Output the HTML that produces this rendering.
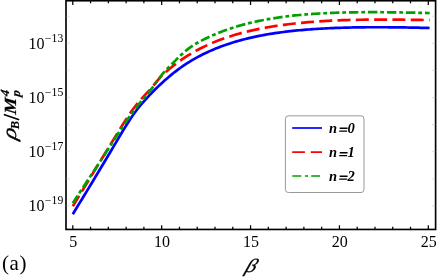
<!DOCTYPE html>
<html><head><meta charset="utf-8"><title>plot</title>
<style>
html,body{margin:0;padding:0;background:#fff;}
svg{display:block;will-change:transform;}
text{font-family:"Liberation Serif",serif;fill:#000;}
.tk{font-size:16px;}
.sup{font-size:11.7px;letter-spacing:0.15px;}
.leg{font-size:14.5px;font-weight:bold;font-style:italic;}
.xl{font-size:19px;font-style:italic;stroke:#000;stroke-width:0.3px;}
.pa{font-size:21px;letter-spacing:0.6px;}
.yl{font-size:17px;font-weight:bold;font-style:italic;stroke:#000;stroke-width:0.2px;}
.ysub{font-size:11.5px;font-weight:bold;font-style:italic;stroke:#000;stroke-width:0.15px;}
.ysubB{font-size:12.5px;font-weight:bold;font-style:italic;stroke:#000;stroke-width:0.15px;}
.rho{font-size:20px;font-style:italic;stroke:#000;stroke-width:0.3px;}
</style></head>
<body>
<svg width="438" height="278" viewBox="0 0 438 278">
<rect x="0" y="0" width="438" height="278" fill="#fff"/>
<rect x="66.0" y="0.75" width="369.6" height="228.7" fill="none" stroke="#000" stroke-width="1.65"/>
<path d="M72.80,229.45 v-4.2 M72.80,0.75 v4.2" stroke="#000" stroke-width="1.25" fill="none"/>
<path d="M90.57,229.45 v-2.6 M90.57,0.75 v2.6" stroke="#000" stroke-width="1.25" fill="none"/>
<path d="M108.35,229.45 v-2.6 M108.35,0.75 v2.6" stroke="#000" stroke-width="1.25" fill="none"/>
<path d="M126.12,229.45 v-2.6 M126.12,0.75 v2.6" stroke="#000" stroke-width="1.25" fill="none"/>
<path d="M143.90,229.45 v-2.6 M143.90,0.75 v2.6" stroke="#000" stroke-width="1.25" fill="none"/>
<path d="M161.68,229.45 v-4.2 M161.68,0.75 v4.2" stroke="#000" stroke-width="1.25" fill="none"/>
<path d="M179.45,229.45 v-2.6 M179.45,0.75 v2.6" stroke="#000" stroke-width="1.25" fill="none"/>
<path d="M197.22,229.45 v-2.6 M197.22,0.75 v2.6" stroke="#000" stroke-width="1.25" fill="none"/>
<path d="M215.00,229.45 v-2.6 M215.00,0.75 v2.6" stroke="#000" stroke-width="1.25" fill="none"/>
<path d="M232.77,229.45 v-2.6 M232.77,0.75 v2.6" stroke="#000" stroke-width="1.25" fill="none"/>
<path d="M250.55,229.45 v-4.2 M250.55,0.75 v4.2" stroke="#000" stroke-width="1.25" fill="none"/>
<path d="M268.32,229.45 v-2.6 M268.32,0.75 v2.6" stroke="#000" stroke-width="1.25" fill="none"/>
<path d="M286.10,229.45 v-2.6 M286.10,0.75 v2.6" stroke="#000" stroke-width="1.25" fill="none"/>
<path d="M303.88,229.45 v-2.6 M303.88,0.75 v2.6" stroke="#000" stroke-width="1.25" fill="none"/>
<path d="M321.65,229.45 v-2.6 M321.65,0.75 v2.6" stroke="#000" stroke-width="1.25" fill="none"/>
<path d="M339.43,229.45 v-4.2 M339.43,0.75 v4.2" stroke="#000" stroke-width="1.25" fill="none"/>
<path d="M357.20,229.45 v-2.6 M357.20,0.75 v2.6" stroke="#000" stroke-width="1.25" fill="none"/>
<path d="M374.97,229.45 v-2.6 M374.97,0.75 v2.6" stroke="#000" stroke-width="1.25" fill="none"/>
<path d="M392.75,229.45 v-2.6 M392.75,0.75 v2.6" stroke="#000" stroke-width="1.25" fill="none"/>
<path d="M410.52,229.45 v-2.6 M410.52,0.75 v2.6" stroke="#000" stroke-width="1.25" fill="none"/>
<path d="M428.30,229.45 v-4.2 M428.30,0.75 v4.2" stroke="#000" stroke-width="1.25" fill="none"/>
<path d="M66.0,205.90 h3.5 M435.6,205.90 h-3.5" stroke="#aaa" stroke-width="0.4" fill="none"/>
<path d="M66.0,178.80 h3.5 M435.6,178.80 h-3.5" stroke="#aaa" stroke-width="0.4" fill="none"/>
<path d="M66.0,151.70 h3.5 M435.6,151.70 h-3.5" stroke="#aaa" stroke-width="0.4" fill="none"/>
<path d="M66.0,124.60 h3.5 M435.6,124.60 h-3.5" stroke="#aaa" stroke-width="0.4" fill="none"/>
<path d="M66.0,97.50 h3.5 M435.6,97.50 h-3.5" stroke="#aaa" stroke-width="0.4" fill="none"/>
<path d="M66.0,70.40 h3.5 M435.6,70.40 h-3.5" stroke="#aaa" stroke-width="0.4" fill="none"/>
<path d="M66.0,43.30 h3.5 M435.6,43.30 h-3.5" stroke="#aaa" stroke-width="0.4" fill="none"/>
<path d="M66.0,16.20 h3.5 M435.6,16.20 h-3.5" stroke="#aaa" stroke-width="0.4" fill="none"/>
<path d="M72.80,214.18 L75.04,210.48 L77.29,206.80 L79.53,203.14 L81.78,199.47 L84.02,195.79 L86.26,192.10 L88.51,188.40 L90.75,184.68 L93.00,180.96 L95.24,177.23 L97.48,173.50 L99.73,169.75 L101.97,166.01 L104.22,162.26 L106.46,158.50 L108.70,154.73 L110.95,150.95 L113.19,147.15 L115.44,143.36 L117.68,139.57 L119.92,135.80 L122.17,132.06 L124.41,128.38 L126.66,124.76 L128.90,121.24 L131.14,117.84 L133.39,114.58 L135.63,111.48 L137.88,108.53 L140.12,105.73 L142.36,103.07 L144.61,100.52 L146.85,98.06 L149.10,95.67 L151.34,93.34 L153.58,91.06 L155.83,88.83 L158.07,86.64 L160.32,84.49 L162.56,82.40 L164.81,80.37 L167.05,78.39 L169.29,76.47 L171.54,74.61 L173.78,72.82 L176.03,71.08 L178.27,69.39 L180.51,67.77 L182.76,66.20 L185.00,64.68 L187.25,63.22 L189.49,61.81 L191.73,60.44 L193.98,59.13 L196.22,57.86 L198.47,56.63 L200.71,55.45 L202.95,54.32 L205.20,53.22 L207.44,52.16 L209.69,51.14 L211.93,50.15 L214.17,49.20 L216.42,48.28 L218.66,47.40 L220.91,46.54 L223.15,45.72 L225.39,44.92 L227.64,44.16 L229.88,43.42 L232.13,42.70 L234.37,42.02 L236.61,41.35 L238.86,40.72 L241.10,40.10 L243.35,39.51 L245.59,38.94 L247.83,38.38 L250.08,37.85 L252.32,37.34 L254.57,36.85 L256.81,36.38 L259.05,35.93 L261.30,35.49 L263.54,35.07 L265.79,34.67 L268.03,34.28 L270.27,33.91 L272.52,33.55 L274.76,33.20 L277.01,32.88 L279.25,32.56 L281.49,32.26 L283.74,31.97 L285.98,31.69 L288.23,31.42 L290.47,31.16 L292.71,30.92 L294.96,30.69 L297.20,30.46 L299.45,30.25 L301.69,30.05 L303.93,29.85 L306.18,29.67 L308.42,29.49 L310.67,29.32 L312.91,29.16 L315.15,29.01 L317.40,28.87 L319.64,28.73 L321.89,28.60 L324.13,28.48 L326.37,28.36 L328.62,28.25 L330.86,28.15 L333.11,28.06 L335.35,27.97 L337.59,27.89 L339.84,27.81 L342.08,27.74 L344.33,27.67 L346.57,27.61 L348.82,27.55 L351.06,27.50 L353.30,27.46 L355.55,27.41 L357.79,27.38 L360.04,27.34 L362.28,27.32 L364.52,27.29 L366.77,27.27 L369.01,27.26 L371.26,27.25 L373.50,27.24 L375.74,27.23 L377.99,27.23 L380.23,27.23 L382.48,27.24 L384.72,27.25 L386.96,27.26 L389.21,27.28 L391.45,27.30 L393.70,27.32 L395.94,27.34 L398.18,27.37 L400.43,27.40 L402.67,27.43 L404.92,27.47 L407.16,27.50 L409.40,27.54 L411.65,27.59 L413.89,27.63 L416.14,27.68 L418.38,27.72 L420.62,27.78 L422.87,27.83 L425.11,27.88 L427.36,27.94 L429.60,28.00" fill="none" stroke="#0000ff" stroke-width="2.7" stroke-linejoin="round"/>
<path d="M72.80,206.31 L75.04,202.60 L77.29,198.92 L79.53,195.24 L81.78,191.57 L84.02,187.88 L86.26,184.19 L88.51,180.48 L90.75,176.77 L93.00,173.09 L95.24,169.43 L97.48,165.79 L99.73,162.13 L101.97,158.47 L104.22,154.82 L106.46,151.16 L108.70,147.50 L110.95,143.82 L113.19,140.14 L115.44,136.45 L117.68,132.77 L119.92,129.12 L122.17,125.50 L124.41,121.94 L126.66,118.46 L128.90,115.09 L131.14,111.85 L133.39,108.74 L135.63,105.78 L137.88,103.00 L140.12,100.37 L142.36,97.86 L144.61,95.42 L146.85,93.02 L149.10,90.56 L151.34,87.99 L153.58,85.39 L155.83,82.59 L158.07,79.89 L160.32,77.41 L162.56,75.05 L164.81,72.90 L167.05,70.94 L169.29,69.04 L171.54,67.21 L173.78,65.43 L176.03,63.71 L178.27,62.05 L180.51,60.45 L182.76,58.90 L185.00,57.40 L187.25,55.96 L189.49,54.56 L191.73,53.22 L193.98,51.92 L196.22,50.67 L198.47,49.46 L200.71,48.30 L202.95,47.18 L205.20,46.10 L207.44,45.05 L209.69,44.04 L211.93,43.07 L214.17,42.13 L216.42,41.23 L218.66,40.36 L220.91,39.51 L223.15,38.70 L225.39,37.91 L227.64,37.16 L229.88,36.42 L232.13,35.72 L234.37,35.03 L236.61,34.38 L238.86,33.74 L241.10,33.12 L243.35,32.53 L245.59,31.96 L247.83,31.41 L250.08,30.87 L252.32,30.36 L254.57,29.86 L256.81,29.38 L259.05,28.92 L261.30,28.48 L263.54,28.05 L265.79,27.64 L268.03,27.24 L270.27,26.86 L272.52,26.49 L274.76,26.13 L277.01,25.79 L279.25,25.46 L281.49,25.14 L283.74,24.84 L285.98,24.54 L288.23,24.26 L290.47,23.99 L292.71,23.73 L294.96,23.48 L297.20,23.24 L299.45,23.01 L301.69,22.79 L303.93,22.58 L306.18,22.38 L308.42,22.19 L310.67,22.00 L312.91,21.83 L315.15,21.66 L317.40,21.50 L319.64,21.35 L321.89,21.20 L324.13,21.07 L326.37,20.94 L328.62,20.82 L330.86,20.70 L333.11,20.59 L335.35,20.49 L337.59,20.39 L339.84,20.30 L342.08,20.22 L344.33,20.15 L346.57,20.07 L348.82,20.01 L351.06,19.95 L353.30,19.89 L355.55,19.85 L357.79,19.80 L360.04,19.76 L362.28,19.73 L364.52,19.70 L366.77,19.67 L369.01,19.65 L371.26,19.63 L373.50,19.62 L375.74,19.61 L377.99,19.60 L380.23,19.60 L382.48,19.59 L384.72,19.60 L386.96,19.60 L389.21,19.61 L391.45,19.62 L393.70,19.64 L395.94,19.65 L398.18,19.67 L400.43,19.69 L402.67,19.72 L404.92,19.74 L407.16,19.77 L409.40,19.80 L411.65,19.83 L413.89,19.86 L416.14,19.90 L418.38,19.93 L420.62,19.97 L422.87,20.01 L425.11,20.05 L427.36,20.09 L429.60,20.13" fill="none" stroke="#ff0000" stroke-width="2.7" stroke-dasharray="13 5.3" stroke-dashoffset="0.8" stroke-linejoin="round"/>
<path d="M72.80,203.13 L75.04,199.63 L77.29,196.19 L79.53,192.77 L81.78,189.38 L84.02,185.98 L86.26,182.58 L88.51,179.18 L90.75,175.78 L93.00,172.38 L95.24,168.97 L97.48,165.54 L99.73,162.10 L101.97,158.64 L104.22,155.18 L106.46,151.70 L108.70,148.22 L110.95,144.73 L113.19,141.24 L115.44,137.75 L117.68,134.29 L119.92,130.83 L122.17,127.40 L124.41,124.00 L126.66,120.65 L128.90,117.39 L131.14,114.23 L133.39,111.18 L135.63,108.24 L137.88,105.42 L140.12,102.72 L142.36,100.08 L144.61,97.46 L146.85,94.82 L149.10,92.05 L151.34,89.09 L153.58,86.06 L155.83,82.80 L158.07,79.64 L160.32,76.72 L162.56,73.94 L164.81,71.38 L167.05,69.00 L169.29,66.66 L171.54,64.36 L173.78,62.08 L176.03,59.83 L178.27,57.63 L180.51,55.50 L182.76,53.44 L185.00,51.49 L187.25,49.64 L189.49,47.91 L191.73,46.31 L193.98,44.85 L196.22,43.49 L198.47,42.23 L200.71,41.03 L202.95,39.87 L205.20,38.75 L207.44,37.67 L209.69,36.62 L211.93,35.62 L214.17,34.64 L216.42,33.70 L218.66,32.79 L220.91,31.91 L223.15,31.07 L225.39,30.25 L227.64,29.46 L229.88,28.70 L232.13,27.96 L234.37,27.25 L236.61,26.56 L238.86,25.90 L241.10,25.26 L243.35,24.64 L245.59,24.05 L247.83,23.48 L250.08,22.92 L252.32,22.39 L254.57,21.88 L256.81,21.39 L259.05,20.91 L261.30,20.46 L263.54,20.02 L265.79,19.59 L268.03,19.19 L270.27,18.80 L272.52,18.43 L274.76,18.07 L277.01,17.73 L279.25,17.40 L281.49,17.08 L283.74,16.78 L285.98,16.49 L288.23,16.21 L290.47,15.95 L292.71,15.70 L294.96,15.46 L297.20,15.23 L299.45,15.01 L301.69,14.81 L303.93,14.61 L306.18,14.42 L308.42,14.25 L310.67,14.08 L312.91,13.92 L315.15,13.77 L317.40,13.63 L319.64,13.50 L321.89,13.37 L324.13,13.25 L326.37,13.14 L328.62,13.04 L330.86,12.95 L333.11,12.86 L335.35,12.77 L337.59,12.70 L339.84,12.63 L342.08,12.56 L344.33,12.51 L346.57,12.45 L348.82,12.41 L351.06,12.36 L353.30,12.33 L355.55,12.29 L357.79,12.27 L360.04,12.24 L362.28,12.23 L364.52,12.21 L366.77,12.20 L369.01,12.19 L371.26,12.19 L373.50,12.19 L375.74,12.20 L377.99,12.20 L380.23,12.22 L382.48,12.23 L384.72,12.25 L386.96,12.27 L389.21,12.29 L391.45,12.32 L393.70,12.34 L395.94,12.37 L398.18,12.41 L400.43,12.44 L402.67,12.48 L404.92,12.52 L407.16,12.56 L409.40,12.60 L411.65,12.64 L413.89,12.69 L416.14,12.74 L418.38,12.79 L420.62,12.84 L422.87,12.89 L425.11,12.94 L427.36,12.99 L429.60,13.05" fill="none" stroke="#00a000" stroke-width="2.7" stroke-dasharray="9.4 2.9 3.8 2.9" stroke-dashoffset="0.5" stroke-linejoin="round"/>
<rect x="285.4" y="115.85" width="78.6" height="76.65" rx="3" ry="3" fill="#fff" stroke="#999" stroke-width="1"/>
<path d="M292.2,128.0 H322" stroke="#0000ff" stroke-width="1.7"/>
<path d="M292.2,152.2 H322" stroke="#ff0000" stroke-width="1.7" stroke-dasharray="12.7 5.8"/>
<path d="M292.3,176.0 H320.4" stroke="#00a000" stroke-width="1.7" stroke-dasharray="8.9 3.7 3.2 3.1"/>
<text x="329" y="132.9" class="leg">n</text><text x="347.6" y="132.9" class="leg">0</text>
<path d="M339.7,128.20 h7.9 M339.2,131.10 h7.9" stroke="#000" stroke-width="1.4" fill="none"/>
<text x="329" y="157.4" class="leg">n</text><text x="347.6" y="157.4" class="leg">1</text>
<path d="M339.7,152.70 h7.9 M339.2,155.60 h7.9" stroke="#000" stroke-width="1.4" fill="none"/>
<text x="329" y="180.9" class="leg">n</text><text x="347.6" y="180.9" class="leg">2</text>
<path d="M339.7,176.20 h7.9 M339.2,179.10 h7.9" stroke="#000" stroke-width="1.4" fill="none"/>
<text x="73.15" y="246.7" class="tk" text-anchor="middle">5</text>
<text x="162.03" y="246.7" class="tk" text-anchor="middle">10</text>
<text x="250.90" y="246.7" class="tk" text-anchor="middle">15</text>
<text x="339.78" y="246.7" class="tk" text-anchor="middle">20</text>
<text x="428.65" y="246.7" class="tk" text-anchor="middle">25</text>
<text x="28.6" y="48.60" class="tk">10<tspan class="sup" dy="-6.9" dx="0.1">−13</tspan></text>
<text x="28.6" y="102.80" class="tk">10<tspan class="sup" dy="-6.9" dx="0.1">−15</tspan></text>
<text x="28.6" y="157.00" class="tk">10<tspan class="sup" dy="-6.9" dx="0.1">−17</tspan></text>
<text x="28.6" y="211.20" class="tk">10<tspan class="sup" dy="-6.9" dx="0.1">−19</tspan></text>
<text transform="translate(249.5,272.3) skewX(-20) scale(1.12,1)" class="xl" text-anchor="middle">β</text>
<text x="2" y="269.7" class="pa">(a)</text>
<g transform="translate(16.2,142) rotate(-90)"><text transform="translate(1.8,0) skewX(-14) scale(1.18,1)" class="rho">ρ</text><text x="12.7" y="2.4" class="ysubB">B</text><path d="M22.2,3.0 L27.5,-12.4" stroke="#000" stroke-width="1.6" fill="none"/><text transform="translate(27.2,0) skewX(-6) scale(1.1,1)" class="yl">M</text><text transform="translate(44.9,3.8) skewX(-8)" class="ysubB">p</text><text transform="translate(45.6,-7.6) skewX(-8)" class="ysubB">4</text></g>
</svg>
</body></html>
